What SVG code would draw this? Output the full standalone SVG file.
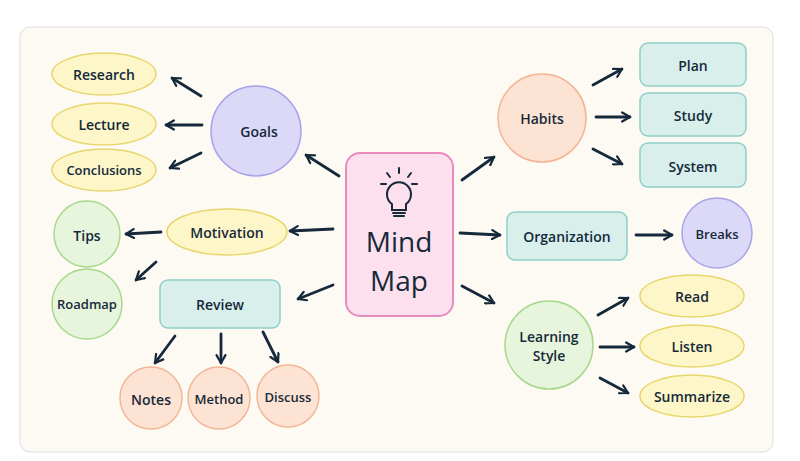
<svg xmlns="http://www.w3.org/2000/svg" width="800" height="461" viewBox="0 0 800 461">
<style>
text{font-family:"Open Sans","Liberation Sans",sans-serif;font-size:14px;font-weight:600;fill:#15293a;text-anchor:middle;dominant-baseline:central}
.y{fill:#fdf6c8;stroke:#e8d66a;stroke-width:1.5}
.p{fill:#dcd9f8;stroke:#aaa3ea;stroke-width:1.5}
.g{fill:#e6f5dc;stroke:#a8d88c;stroke-width:1.5}
.t{fill:#d8efec;stroke:#8fd0c8;stroke-width:1.5}
.o{fill:#fde3d3;stroke:#f3b695;stroke-width:1.5}
#c path{stroke:#15293a;stroke-width:2.8;fill:none;stroke-linecap:round;marker-end:url(#a)}
</style>
<defs><marker id="a" viewBox="0 0 10 10" refX="8" refY="5" markerWidth="4" markerHeight="4" orient="auto"><path d="M1,1 L8,5 L1,9" fill="none" stroke="#15293a" stroke-width="2" stroke-linecap="round" stroke-linejoin="round"/></marker></defs>
<rect width="800" height="461" fill="#fff"/>
<rect x="20" y="27" width="753" height="425" rx="10" fill="#fdfaf4" stroke="#ddd"/>
<g id="c">
<path d="M201,96 L172,78"/><path d="M202,125 L166,125"/><path d="M201,153 L170,168"/>
<path d="M339,176 L306,155"/><path d="M333,229 L290,231"/><path d="M333,285 L298,299"/>
<path d="M161,232 L126,234"/><path d="M156,262 L136,280"/>
<path d="M175,336 L155,363"/><path d="M221,334 L221,363"/><path d="M263,332 L278,362"/>
<path d="M462,180 L494,157"/><path d="M460,233 L500,235"/><path d="M462,286 L494,303"/>
<path d="M593,85 L622,69"/><path d="M596,117 L630,117"/><path d="M593,149 L622,164"/>
<path d="M636,235 L672,235"/>
<path d="M598,315 L628,298"/><path d="M600,347 L634,347"/><path d="M600,378 L628,393"/>
</g>
<g id="research"><ellipse class="y" cx="104" cy="74" rx="52" ry="21"/><text x="104" y="74">Research</text></g>
<g id="lecture"><ellipse class="y" cx="104" cy="124" rx="52" ry="21"/><text x="104" y="124">Lecture</text></g>
<g id="conclusions"><ellipse class="y" cx="104" cy="170" rx="52" ry="21"/><text x="104" y="170" style="font-size:13px">Conclusions</text></g>
<g id="goals"><circle class="p" cx="256" cy="131" r="45"/><text x="259" y="131">Goals</text></g>
<g id="mindmap"><rect x="346" y="153" width="107" height="163" rx="14" fill="#fde0ee" stroke="#e88bbd" stroke-width="2"/>
<g fill="none" stroke="#15293a" stroke-width="2" stroke-linecap="round"><path d="M392,204 a12,12 0 1 1 14,0 v6 h-14 z"/><path d="M393,213 h12 M394,216 h10"/><path d="M399,168 v5 M387,173 l3,4 M411,173 l-3,4 M381,184 h5 M412,184 h5"/></g>
<text x="399" y="241" style="font-size:28px;font-weight:500">Mind</text><text x="399" y="280" style="font-size:28px;font-weight:500">Map</text></g>
<g id="motivation"><ellipse class="y" cx="227" cy="232" rx="60" ry="23"/><text x="227" y="232">Motivation</text></g>
<g id="tips"><circle class="g" cx="87" cy="234" r="33"/><text x="87" y="235">Tips</text></g>
<g id="roadmap"><circle class="g" cx="87" cy="304" r="35"/><text x="87" y="304" style="font-size:13px">Roadmap</text></g>
<g id="review"><rect class="t" x="160" y="280" width="120" height="48" rx="8"/><text x="220" y="304">Review</text></g>
<g id="notes"><circle class="o" cx="151" cy="398" r="31"/><text x="151" y="399">Notes</text></g>
<g id="method"><circle class="o" cx="219" cy="398" r="31"/><text x="219" y="399" style="font-size:13px">Method</text></g>
<g id="discuss"><circle class="o" cx="288" cy="396" r="31"/><text x="288" y="397" style="font-size:13px">Discuss</text></g>
<g id="habits"><circle class="o" cx="542" cy="118" r="44"/><text x="542" y="118">Habits</text></g>
<g id="plan"><rect class="t" x="640" y="43" width="106" height="43" rx="8"/><text x="693" y="65">Plan</text></g>
<g id="study"><rect class="t" x="640" y="93" width="106" height="43" rx="8"/><text x="693" y="115">Study</text></g>
<g id="system"><rect class="t" x="640" y="143" width="106" height="44" rx="8"/><text x="693" y="166">System</text></g>
<g id="organization"><rect class="t" x="507" y="212" width="120" height="48" rx="8"/><text x="567" y="236">Organization</text></g>
<g id="breaks"><circle class="p" cx="717" cy="233" r="35"/><text x="717" y="234" style="font-size:13px">Breaks</text></g>
<g id="learning"><circle class="g" cx="549" cy="345" r="44"/><text x="549" y="336">Learning</text><text x="549" y="355">Style</text></g>
<g id="read"><ellipse class="y" cx="692" cy="296" rx="52" ry="21"/><text x="692" y="296">Read</text></g>
<g id="listen"><ellipse class="y" cx="692" cy="346" rx="52" ry="21"/><text x="692" y="346">Listen</text></g>
<g id="summarize"><ellipse class="y" cx="692" cy="396" rx="52" ry="21"/><text x="692" y="396">Summarize</text></g>
</svg>
